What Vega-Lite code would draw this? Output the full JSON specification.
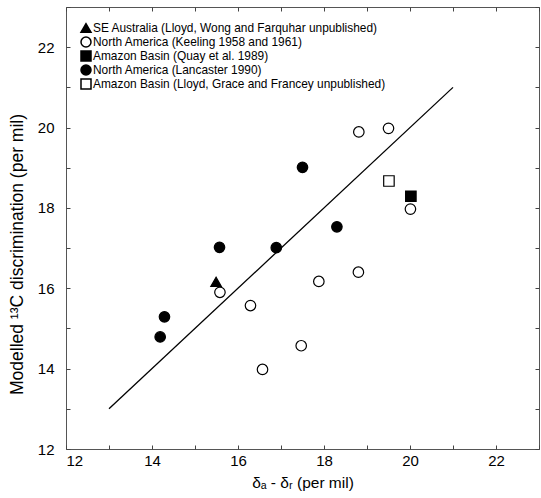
{
  "$schema": "https://vega.github.io/schema/vega-lite/v6.json",
  "width": 473,
  "height": 442,
  "autosize": {"type": "none"},
  "padding": {"left": 66, "top": 7, "right": 2, "bottom": 49},
  "background": "white",
  "config": {
    "font": "Liberation Sans",
    "view": {"stroke": "#555555", "strokeWidth": 1},
    "axis": {
      "grid": false,
      "domain": false,
      "tickColor": "#444444",
      "tickSize": -4,
      "labelColor": "black",
      "labelFontSize": 15,
      "titleColor": "black",
      "titleFontWeight": "normal"
    },
    "legend": {
      "orient": "none",
      "legendX": 14,
      "legendY": 15,
      "padding": 0,
      "rowPadding": -2.7,
      "labelFontSize": 11.9,
      "labelColor": "black",
      "labelLimit": 0,
      "labelOffset": 1,
      "symbolSize": 100
    }
  },
  "datasets": {
    "points": [
      {"source": "SE Australia (Lloyd, Wong and Farquhar unpublished)", "d": 15.49, "m": 16.16},
      {"source": "North America (Keeling 1958 and 1961)", "d": 15.58, "m": 15.9},
      {"source": "North America (Keeling 1958 and 1961)", "d": 16.29, "m": 15.57},
      {"source": "North America (Keeling 1958 and 1961)", "d": 16.57, "m": 13.98},
      {"source": "North America (Keeling 1958 and 1961)", "d": 17.47, "m": 14.57},
      {"source": "North America (Keeling 1958 and 1961)", "d": 17.88, "m": 16.17},
      {"source": "North America (Keeling 1958 and 1961)", "d": 18.8, "m": 16.4},
      {"source": "North America (Keeling 1958 and 1961)", "d": 18.81, "m": 19.89},
      {"source": "North America (Keeling 1958 and 1961)", "d": 19.5, "m": 19.98},
      {"source": "North America (Keeling 1958 and 1961)", "d": 20.01, "m": 17.97},
      {"source": "Amazon Basin (Quay et al. 1989)", "d": 20.02, "m": 18.29},
      {"source": "North America (Lancaster 1990)", "d": 14.19, "m": 14.79},
      {"source": "North America (Lancaster 1990)", "d": 14.29, "m": 15.29},
      {"source": "North America (Lancaster 1990)", "d": 15.57, "m": 17.02},
      {"source": "North America (Lancaster 1990)", "d": 16.89, "m": 17.01},
      {"source": "North America (Lancaster 1990)", "d": 17.5, "m": 19.01},
      {"source": "North America (Lancaster 1990)", "d": 18.3, "m": 17.53},
      {"source": "Amazon Basin (Lloyd, Grace and Francey unpublished)", "d": 19.51, "m": 18.67}
    ],
    "fit": [
      {"d": 13, "m": 13},
      {"d": 21, "m": 21}
    ]
  },
  "layer": [
    {
      "data": {"name": "fit"},
      "mark": {"type": "line", "color": "black", "strokeWidth": 1.3},
      "encoding": {
        "x": {
          "field": "d", "type": "quantitative",
          "scale": {"domain": [12, 23], "nice": false, "zero": false},
          "axis": {"orient": "top", "values": [12, 13, 14, 15, 16, 17, 18, 19, 20, 21, 22, 23], "labels": false, "title": null}
        },
        "y": {
          "field": "m", "type": "quantitative",
          "scale": {"domain": [12, 23], "nice": false, "zero": false},
          "axis": {"orient": "right", "values": [12, 13, 14, 15, 16, 17, 18, 19, 20, 21, 22, 23], "labels": false, "title": null}
        }
      }
    },
    {
      "data": {"name": "points"},
      "mark": {"type": "point", "filled": true, "stroke": "black", "strokeWidth": 1.2, "opacity": 1, "size": 110},
      "encoding": {
        "x": {
          "field": "d", "type": "quantitative",
          "scale": {"domain": [12, 23], "nice": false, "zero": false},
          "axis": {
            "orient": "bottom",
            "values": [12, 13, 14, 15, 16, 17, 18, 19, 20, 21, 22, 23],
            "labelExpr": "datum.value % 2 == 0 ? datum.label : ''",
            "labelPadding": 8,
            "title": "δₐ - δᵣ (per mil)",
            "titleFontSize": 15.5,
            "titlePadding": 7
          }
        },
        "y": {
          "field": "m", "type": "quantitative",
          "scale": {"domain": [12, 23], "nice": false, "zero": false},
          "axis": {
            "orient": "left",
            "values": [12, 13, 14, 15, 16, 17, 18, 19, 20, 21, 22, 23],
            "labelExpr": "datum.value % 2 == 0 ? datum.label : ''",
            "labelPadding": 16,
            "title": "Modelled ¹³C discrimination (per mil)",
            "titleFontSize": 17.5,
            "titleX": -49,
            "titleY": 247,
            "titleBaseline": "middle"
          }
        },
        "shape": {
          "field": "source", "type": "nominal",
          "scale": {
            "domain": [
              "SE Australia (Lloyd, Wong and Farquhar unpublished)",
              "North America (Keeling 1958 and 1961)",
              "Amazon Basin (Quay et al. 1989)",
              "North America (Lancaster 1990)",
              "Amazon Basin (Lloyd, Grace and Francey unpublished)"
            ],
            "range": ["triangle-up", "circle", "square", "circle", "square"]
          },
          "legend": {
            "title": null,
            "encode": {"symbols": {"update": {"stroke": {"value": "black"}, "strokeWidth": {"value": 1.2}}}}
          }
        },
        "fill": {
          "field": "source", "type": "nominal",
          "scale": {
            "domain": [
              "SE Australia (Lloyd, Wong and Farquhar unpublished)",
              "North America (Keeling 1958 and 1961)",
              "Amazon Basin (Quay et al. 1989)",
              "North America (Lancaster 1990)",
              "Amazon Basin (Lloyd, Grace and Francey unpublished)"
            ],
            "range": ["black", "white", "black", "black", "white"]
          },
          "legend": {
            "title": null,
            "encode": {"symbols": {"update": {"stroke": {"value": "black"}, "strokeWidth": {"value": 1.2}}}}
          }
        }
      }
    }
  ],
  "resolve": {"axis": {"x": "independent", "y": "independent"}}
}
